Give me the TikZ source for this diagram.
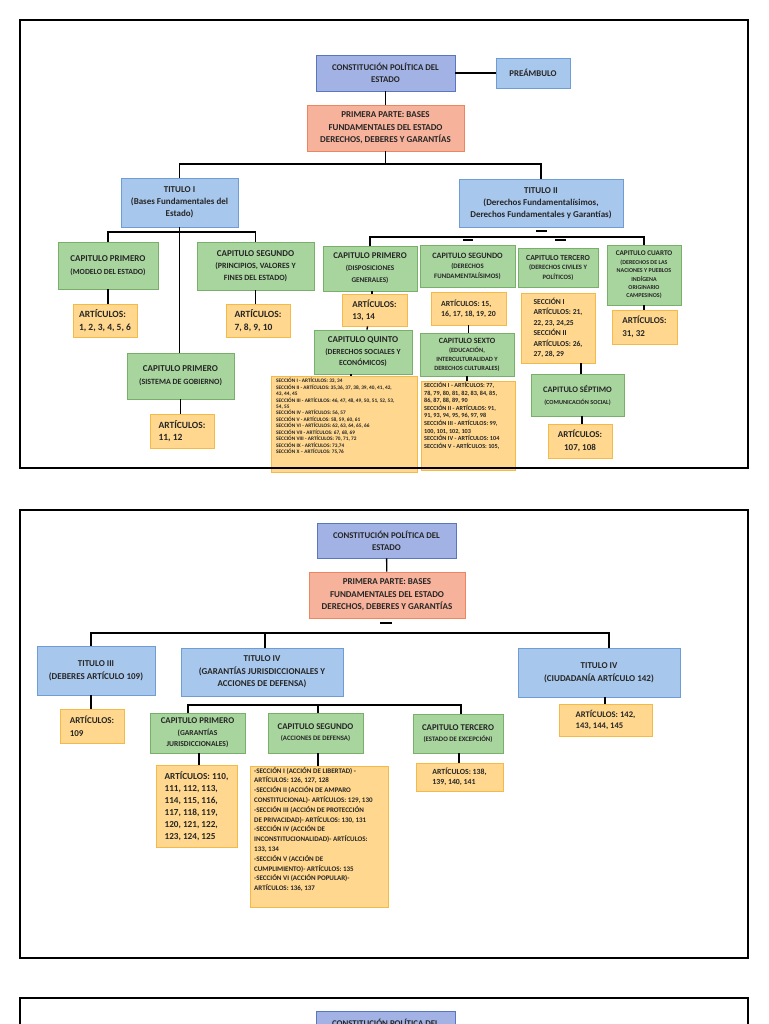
\documentclass[tikz,border=0pt]{standalone}
\usepackage{fontspec}
\setmainfont{Carlito}
\definecolor{blueAf}{HTML}{A3B2E4}
\definecolor{blueAd}{HTML}{5A76BE}
\definecolor{blueBf}{HTML}{A8C7EC}
\definecolor{blueBd}{HTML}{6E9CD4}
\definecolor{salf}{HTML}{F6B29B}
\definecolor{sald}{HTML}{EC8660}
\definecolor{grnf}{HTML}{A8D49E}
\definecolor{grnd}{HTML}{78B06A}
\definecolor{yelf}{HTML}{FFD78E}
\definecolor{yeld}{HTML}{F5B947}
\definecolor{txt}{HTML}{262626}
\newcommand\fs[2]{\fontsize{#1}{#2}\selectfont\bfseries}
\newcommand\mybox[7]{\node[#2, minimum width={(#5-#3)*1pt}, minimum height={(#6-#4)*1pt}] (#1) at ({(#3+#5)/2},{(#4+#6)/2}) {#7};}
\begin{document}
\begin{tikzpicture}[x=1pt,y=-1pt,
  box/.style={draw, line width=0.8pt, inner sep=1pt, align=center, text=txt, font=\bfseries},
  bluea/.style={box, fill=blueAf, draw=blueAd},
  blueb/.style={box, fill=blueBf, draw=blueBd},
  salmon/.style={box, fill=salf, draw=sald},
  greenb/.style={box, fill=grnf, draw=grnd},
  yel/.style={box, fill=yelf, draw=yeld},
  lbox/.style={align=left},
  sectxt/.style={inner sep=0pt, align=left, text=txt},
  conn/.style={line width=1.4pt, black},
  tickmark/.style={line width=1.6pt, black},
  frame/.style={line width=1.6pt, black}]
\useasboundingbox (0,0) rectangle (768,1024);
\fill[white] (0,0) rectangle (768,1024);
\clip (0,0) rectangle (768,1024);

% ---------------- Panel 1 ----------------
\mybox{cpe1}{bluea,font={\fs{8.8}{12}}}{316}{55}{455}{91}{CONSTITUCIÓN POLÍTICA DEL\\ESTADO}
\mybox{pre}{blueb,font={\fs{8.8}{12}}}{496}{58}{570}{88}{PREÁMBULO}
\mybox{pp1}{salmon,font={\fs{9}{12.5}}}{307}{105}{464}{151}{PRIMERA PARTE: BASES\\FUNDAMENTALES DEL ESTADO\\DERECHOS, DEBERES Y GARANTÍAS}
\mybox{t1}{blueb,font={\fs{9}{12}}}{121}{178}{238}{227}{TITULO I\\(Bases Fundamentales del\\Estado)}
\mybox{t2}{blueb,font={\fs{9}{12}}}{459}{179}{623}{227}{TITULO II\\(Derechos Fundamentalísimos,\\Derechos Fundamentales y Garantías)}

\mybox{c11}{greenb,font={\fs{9}{13}}}{58}{242}{158}{289}{CAPITULO PRIMERO\\\fs{7.8}{13}(MODELO DEL ESTADO)}
\mybox{a11}{yel,lbox,font={\fs{9.5}{12.5}}}{73}{304}{137}{337}{ARTÍCULOS:\\1, 2, 3, 4, 5, 6}
\mybox{c12}{greenb,font={\fs{9}{12}}}{197}{242}{314}{290}{CAPITULO SEGUNDO\\\fs{8}{12}(PRINCIPIOS, VALORES Y\\\fs{8}{12}FINES DEL ESTADO)}
\mybox{a12}{yel,lbox,font={\fs{9.5}{12.5}}}{226}{304}{290}{337}{ARTÍCULOS:\\7, 8, 9, 10}
\mybox{c13}{greenb,font={\fs{9}{13}}}{127}{353}{234}{399}{CAPITULO PRIMERO\\\fs{8}{13}(SISTEMA DE GOBIERNO)}
\mybox{a13}{yel,lbox,font={\fs{9.5}{12.5}}}{150}{414}{214}{448}{ARTÍCULOS:\\11, 12\hspace*{18pt}}

\mybox{c21}{greenb,font={\fs{8.8}{12}}}{323}{246}{417}{291}{CAPITULO PRIMERO\\\fs{7.2}{12}(DISPOSICIONES\\\fs{7.2}{12}GENERALES)}
\mybox{a21}{yel,lbox,font={\fs{9}{12}}}{342}{294}{407}{326}{ARTÍCULOS:\\13, 14}
\mybox{c25}{greenb,font={\fs{9}{11.5}}}{314}{330}{412}{374}{CAPITULO QUINTO\\\fs{7.8}{11.5}(DERECHOS SOCIALES Y\\\fs{7.8}{11.5}ECONÓMICOS)}
\mybox{s25}{yel}{271}{376}{417}{472}{}
\node[sectxt, anchor=north west, font={\fs{5.3}{6.45}}] (s25t) at (276,378) {SECCIÓN I - ARTÍCULOS: 33, 34\\
SECCIÓN II - ARTÍCULOS: 35,36, 37, 38, 39, 40, 41, 42,\\
43, 44, 45\\
SECCIÓN III - ARTÍCULOS: 46, 47, 48, 49, 50, 51, 52, 53,\\
54, 55\\
SECCIÓN IV - ARTÍCULOS: 56, 57\\
SECCIÓN V - ARTÍCULOS: 58, 59, 60, 61\\
SECCIÓN VI - ARTÍCULOS: 62, 63, 64, 65, 66\\
SECCIÓN VII - ARTÍCULOS: 67, 68, 69\\
SECCIÓN VIII - ARTÍCULOS: 70, 71, 72\\
SECCIÓN IX - ARTÍCULOS: 73,74\\
SECCIÓN X – ARTÍCULOS: 75,76};

\mybox{c22}{greenb,font={\fs{8.2}{10}}}{420}{245}{515}{287}{CAPITULO SEGUNDO\\\fs{6.8}{10}(DERECHOS\\\fs{6.8}{10}FUNDAMENTALÍSIMOS)}
\mybox{a22}{yel,lbox,font={\fs{7.8}{9.8}}}{431}{292}{506}{325}{ARTÍCULOS: 15,\\16, 17, 18, 19, 20}
\mybox{c26}{greenb,font={\fs{8}{9}}}{420}{333}{514}{376}{CAPITULO SEXTO\\\fs{6.4}{9}(EDUCACIÓN,\\\fs{6.4}{9}INTERCULTURALIDAD Y\\\fs{6.4}{9}DERECHOS CULTURALES)}
\mybox{s26}{yel}{421}{381}{515}{470}{}
\node[sectxt, anchor=north west, font={\fs{6.2}{7.6}}] (s26t) at (424,382) {SECCIÓN I - ARTÍCULOS: 77,\\
78, 79, 80, 81, 82, 83, 84, 85,\\
86, 87, 88, 89, 90\\
SECCIÓN II - ARTÍCULOS: 91,\\
91, 93, 94, 95, 96, 97, 98\\
SECCIÓN III - ARTÍCULOS: 99,\\
100, 101, 102, 103\\
SECCIÓN IV - ARTÍCULOS: 104\\
SECCIÓN V - ARTÍCULOS: 105,};

\mybox{c23}{greenb,font={\fs{7.8}{9.5}}}{518}{248}{598}{287}{CAPITULO TERCERO\\\fs{6.6}{9.5}(DERECHOS CIVILES Y\\\fs{6.6}{9.5}POLÍTICOS)}
\mybox{a23}{yel,lbox,font={\fs{7.6}{10.5}}}{521}{293}{595}{363}{SECCIÓN I\\ARTÍCULOS: 21,\\22, 23, 24,25\\SECCIÓN II\\ARTÍCULOS: 26,\\27, 28, 29}
\mybox{c27}{greenb,font={\fs{8.4}{12}}}{531}{374}{624}{416}{CAPITULO SÉPTIMO\\\fs{6.2}{12}(COMUNICACIÓN SOCIAL)}
\mybox{a27}{yel,font={\fs{9}{12.5}}}{548}{424}{612}{458}{ARTÍCULOS:\\107, 108}
\mybox{c24}{greenb,font={\fs{7.2}{8.4}}}{607}{245}{681}{305}{CAPITULO CUARTO\\\fs{6}{8.4}(DERECHOS DE LAS\\\fs{6}{8.4}NACIONES Y PUEBLOS\\\fs{6}{8.4}INDÍGENA\\\fs{6}{8.4}ORIGINARIO\\\fs{6}{8.4}CAMPESINOS)}
\mybox{a24}{yel,lbox,font={\fs{9}{12.5}}}{612}{310}{677}{344}{ARTÍCULOS:\\31, 32}

% connectors panel 1
\draw[conn] (cpe1) -- (pre);
\draw[conn] (cpe1) -- (pp1);
\coordinate (j1) at (385.5,164);
\draw[conn] (pp1.south) -- (j1);
\draw[conn] (t1.north) |- (j1) -| (t2.north);
\coordinate (j2) at (180,232);
\draw[conn] (t1.south) -- (t1.south |- c13.north);
\draw[conn] (c11.north) |- (j2) -| (c12.north);
\draw[conn] (c11.south) -- (c11.south |- a11.north);
\draw[conn] (c12.south) -- (c12.south |- a12.north);
\draw[conn] (c13.south) -- (c13.south |- a13.north);
\coordinate (j3) at (500,237);
\draw[conn] (c21.north) |- (j3) -| (c24.north);
\draw[conn] ([xshift=2pt]c21.south) -- ([xshift=2pt]c21.south |- a21.north);
\draw[conn] ([xshift=-7pt]a21.south) -- ([xshift=4pt]c25.north);
\draw[conn] ([xshift=-12pt]c25.south) -- ([xshift=-12pt]c25.south |- s25.north);
\draw[conn] (a22.south) -- (a22.south |- c26.north);
\draw[conn] (c26.south) -- (c26.south |- s26.north);
\draw[conn] ([xshift=3.5pt]c27.north) -- ([xshift=3.5pt]c27.north |- a23.south);
\draw[conn] ([xshift=4.5pt]c27.south) -- ([xshift=4.5pt]c27.south |- a27.north);
\draw[conn] (c24.south) -- (c24.south |- a24.north);
\draw[tickmark] (536,231) -- (547,231);
\draw[tickmark] (463,240) -- (473,240);
\draw[tickmark] (555,240) -- (566,240);

% ---------------- Panel 2 ----------------
\mybox{cpe2}{bluea,font={\fs{8.8}{12}}}{317}{523}{456}{558}{CONSTITUCIÓN POLÍTICA DEL\\ESTADO}
\mybox{pp2}{salmon,font={\fs{9}{12.5}}}{309}{572}{465}{618}{PRIMERA PARTE: BASES\\FUNDAMENTALES DEL ESTADO\\DERECHOS, DEBERES Y GARANTÍAS}
\mybox{t3}{blueb,font={\fs{9}{12.5}}}{37}{646}{155}{695}{TITULO III\\(DEBERES ARTÍCULO 109)}
\mybox{t4}{blueb,font={\fs{9}{12.5}}}{181}{648}{343}{696}{TITULO IV\\(GARANTÍAS JURISDICCIONALES Y\\ACCIONES DE DEFENSA)}
\mybox{t5}{blueb,font={\fs{9}{12.5}}}{518}{648}{680}{697}{TITULO IV\\(CIUDADANÍA ARTÍCULO 142)}
\mybox{a31}{yel,lbox,font={\fs{9}{12.5}}}{60}{709}{124}{743}{ARTÍCULOS:\\109}
\mybox{c41}{greenb,font={\fs{8.8}{11.5}}}{150}{713}{245}{753}{CAPITULO PRIMERO\\\fs{7.6}{11.5}(GARANTÍAS\\\fs{7.6}{11.5}JURISDICCIONALES)}
\mybox{a41}{yel,lbox,font={\fs{9.2}{12}}}{156}{765}{237}{847}{ARTÍCULOS: 110,\\111, 112, 113,\\114, 115, 116,\\117, 118, 119,\\120, 121, 122,\\123, 124, 125}
\mybox{c42}{greenb,font={\fs{8.8}{11}}}{268}{713}{363}{753}{CAPITULO SEGUNDO\\\fs{6.8}{11}(ACCIONES DE DEFENSA)}
\mybox{s42}{yel}{250}{766}{388}{907}{}
\node[sectxt, anchor=north west, font={\fs{7}{9.8}}] (s42t) at (254,767) {-SECCIÓN I (ACCIÓN DE LIBERTAD) -\\
ARTÍCULOS: 126, 127, 128\\
-SECCIÓN II (ACCIÓN DE AMPARO\\
CONSTITUCIONAL)- ARTÍCULOS: 129, 130\\
-SECCIÓN III (ACCIÓN DE PROTECCIÓN\\
DE PRIVACIDAD)- ARTÍCULOS: 130, 131\\
-SECCIÓN IV (ACCIÓN DE\\
INCONSTITUCIONALIDAD)- ARTÍCULOS:\\
133, 134\\
-SECCIÓN V (ACCIÓN DE\\
CUMPLIMIENTO)- ARTÍCULOS: 135\\
-SECCIÓN VI (ACCIÓN POPULAR)-\\
ARTÍCULOS: 136, 137};
\mybox{c43}{greenb,font={\fs{8.8}{11}}}{413}{714}{503}{753}{CAPITULO TERCERO\\\fs{6.8}{11}(ESTADO DE EXCEPCIÓN)}
\mybox{a43}{yel,lbox,font={\fs{7.8}{10}}}{416}{763}{503}{791}{ARTÍCULOS: 138,\\139, 140, 141}
\mybox{a51}{yel,lbox,font={\fs{8.6}{11}}}{559}{704}{652}{736}{ARTÍCULOS: 142,\\143, 144, 145}

% connectors panel 2
\draw[conn] (cpe2) -- (pp2);
\coordinate (j4a) at (91,633);
\coordinate (j4b) at (265,633);
\coordinate (j4c) at (609,633);
\draw[conn] (j4a |- t3.north) -- (j4a) -- (j4c) -- (j4c |- t5.north);
\draw[conn] (j4b) -- (j4b |- t4.north);
\draw[conn] (j4a |- t3.south) -- (j4a |- a31.north);
\coordinate (j5a) at (188,705);
\coordinate (j5b) at (318,705);
\coordinate (j5c) at (461,705);
\draw[conn] (j5a |- c41.north) -- (j5a) -- (j5c) -- (j5c |- c43.north);
\draw[conn] (j5b) -- (j5b |- c42.north);
\draw[conn] ([xshift=1.5pt]c41.south) -- ([xshift=1.5pt]c41.south |- a41.north);
\draw[conn] ([xshift=2.5pt]c42.south) -- ([xshift=2.5pt]c42.south |- s42.north);
\draw[conn] ([xshift=1pt]c43.south) -- ([xshift=1pt]c43.south |- a43.north);
\draw[conn] ([xshift=6pt]t5.south) -- ([xshift=6pt]t5.south |- a51.north);
\draw[tickmark] (380,623) -- (392,623);

% ---------------- Panel 3 (cut) ----------------
\mybox{cpe3}{bluea,font={\fs{8.8}{12}}}{316}{1011}{455}{1046}{CONSTITUCIÓN POLÍTICA DEL\\ESTADO}

% frames
\draw[frame] (20,20) rectangle (748,468);
\draw[frame] (20,510) rectangle (748,958);
\draw[frame] (20,998) rectangle (748,1060);
\end{tikzpicture}
\end{document}
